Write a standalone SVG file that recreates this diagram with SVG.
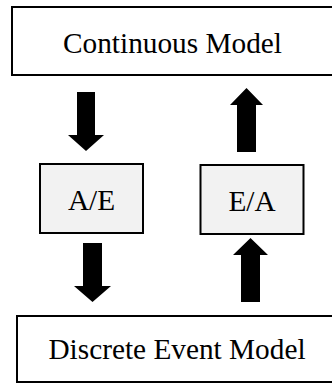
<svg xmlns="http://www.w3.org/2000/svg" width="332" height="385" viewBox="0 0 332 385">
  <style>
    .model { fill: #ffffff; stroke: #000000; stroke-width: 2; }
    .conv { fill: #f2f2f2; stroke: #000000; stroke-width: 2; }
    .label { font-family: "Liberation Serif", "Times New Roman", serif; font-size: 29.3px; fill: #000000; text-anchor: middle; }
    .arrow { fill: #000000; stroke: none; }
  </style>
  <rect width="332" height="385" fill="#ffffff"/>

  <g id="continuous-model">
    <rect class="model" x="12" y="7" width="340" height="68"/>
    <text class="label" x="172.5" y="53">Continuous Model</text>
  </g>

  <g id="a-e">
    <rect class="conv" x="40" y="164" width="103" height="69"/>
    <text class="label" x="91.5" y="210">A/E</text>
  </g>

  <g id="e-a">
    <rect class="conv" x="200.5" y="165" width="103" height="69"/>
    <text class="label" x="252" y="211">E/A</text>
  </g>

  <g id="discrete-event-model">
    <rect class="model" x="17" y="316" width="340" height="66"/>
    <text class="label" x="177" y="359">Discrete Event Model</text>
  </g>

  <g id="connectors">
    <!-- continuous model to A/E -->
    <polygon class="arrow" points="77,92 95,92 95,135 104,135 86,151 68,135 77,135"/>
    <!-- E/A to continuous model -->
    <polygon class="arrow" points="237,152 256,152 256,105 263,105 246.5,88 230,105 237,105"/>
    <!-- A/E to discrete event model -->
    <polygon class="arrow" points="83,243 102,243 102,286 111,286 92.5,302 74,286 83,286"/>
    <!-- discrete event model to E/A -->
    <polygon class="arrow" points="241,302 260,302 260,255 268,255 250.5,238 233,255 241,255"/>
  </g>
</svg>
